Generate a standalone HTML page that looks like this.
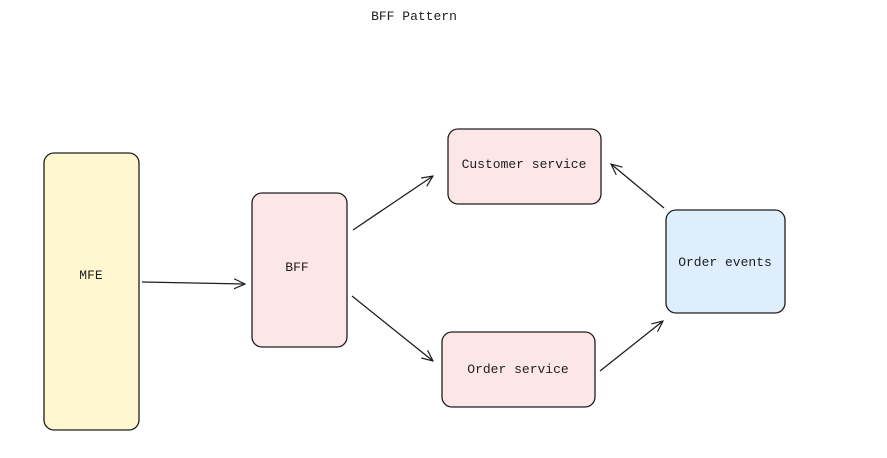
<!DOCTYPE html>
<html><head><meta charset="utf-8"><style>
html,body{margin:0;padding:0;background:#fff;width:887px;height:458px;overflow:hidden}
text{font-family:"Liberation Mono","DejaVu Sans Mono",monospace;font-size:13px;fill:#1e1e1e}
</style></head><body>
<svg width="887" height="458" viewBox="0 0 887 458" xmlns="http://www.w3.org/2000/svg">
<defs>
<marker id="a" viewBox="0 0 12 12" refX="11" refY="6" markerWidth="12" markerHeight="12" markerUnits="userSpaceOnUse" orient="auto">
<path d="M0,1 L11,6 L0,11" fill="none" stroke="#1e1e1e" stroke-width="1.2"/>
</marker>
</defs>
<text x="414" y="20" text-anchor="middle">BFF Pattern</text>
<g stroke="#1e1e1e" stroke-width="1.3">
<rect x="44" y="153" width="95" height="277" rx="10" fill="#fff7cf"/>
<rect x="252" y="193" width="95" height="154" rx="10" fill="#fde6e8"/>
<rect x="448" y="129" width="153" height="75" rx="10" fill="#fde6e8"/>
<rect x="442" y="332" width="153" height="75" rx="10" fill="#fde6e8"/>
<rect x="666" y="210" width="119" height="103" rx="10" fill="#dfeefc"/>
<g fill="none" marker-end="url(#a)">
<line x1="142" y1="282" x2="245" y2="284"/>
<line x1="353" y1="230" x2="433" y2="176"/>
<line x1="352" y1="296" x2="433" y2="361"/>
<line x1="600" y1="371" x2="663" y2="321"/>
<line x1="664" y1="208" x2="611" y2="164"/>
</g>
</g>
<text x="91" y="279" text-anchor="middle">MFE</text>
<text x="297" y="271" text-anchor="middle">BFF</text>
<text x="524" y="168" text-anchor="middle">Customer service</text>
<text x="518" y="373" text-anchor="middle">Order service</text>
<text x="725" y="266" text-anchor="middle">Order events</text>
</svg>
</body></html>
